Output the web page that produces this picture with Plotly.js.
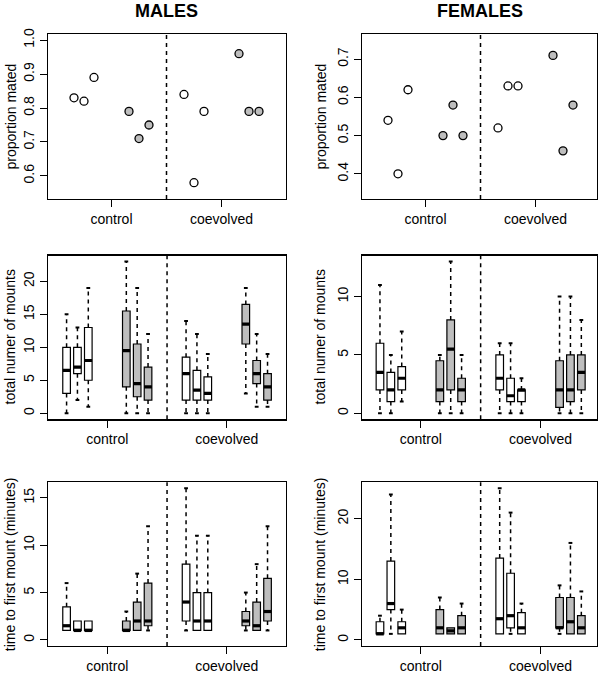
<!DOCTYPE html>
<html><head><meta charset="utf-8">
<script src="https://cdn.plot.ly/plotly-3.0.1.min.js"></script>
<style>html,body{margin:0;padding:0;background:#fff}#chart{width:600px;height:674px}</style>
</head><body><div id="chart"></div>
<script>
// ---------- data ----------
const groups = ["control", "coevolved"];
const sexes = ["MALES", "FEMALES"];
const yTitles = ["proportion mated", "total numer of mounts", "time to first mount (minutes)"];

// proportion mated (12 lines: control white x3, control grey x3, coevolved white x3, coevolved grey x3)
const malesMated   = [0.83, 0.82, 0.89, 0.79, 0.71, 0.75, 0.84, 0.58, 0.79, 0.96, 0.79, 0.79];
const femalesMated = [0.54, 0.40, 0.62, 0.50, 0.58, 0.50, 0.52, 0.63, 0.63, 0.71, 0.46, 0.58];

// total number of mounts - males
const mMountLow = [0, 2, 1, 0, 0, 0, 0, 0, 0, 3, 1, 1];
const mMountQ1  = [3, 6, 5, 4, 2.5, 2, 2, 2, 2, 10.5, 4.5, 2];
const mMountMed = [6.5, 7, 8, 9.5, 4.5, 4, 6, 3.5, 3, 13.5, 6, 4];
const mMountQ3  = [10, 10, 13, 15.5, 10.5, 7, 8.5, 6.5, 5.5, 16.5, 8, 6];
const mMountUp  = [15, 13, 19, 23, 19, 12, 14, 12, 9, 19, 12, 9];

// total number of mounts - females
const fMountLow = [0, 0, 1, 0, 0, 0, 0, 0, 0, 0, 0, 0];
const fMountQ1  = [2, 1, 2, 1, 2, 1, 2, 1, 1, 0.5, 1, 2];
const fMountMed = [3.5, 2, 3, 2, 5.5, 2, 3, 1.5, 2, 2, 2, 3.5];
const fMountQ3  = [6, 3.5, 4, 4.5, 8, 3, 5, 3, 2, 4.5, 5, 5];
const fMountUp  = [11, 5, 7, 5, 13, 5, 6, 6, 3, 10, 10, 8];

// time to first mount - males
const mTimeLow = [1, 1, 1, 1, 1, 1, 1, 1, 1, 1, 1, 1];
const mTimeQ1  = [1, 1, 1, 1, 1, 1.5, 2, 1, 1, 1.5, 1, 2];
const mTimeMed = [1.5, 1, 1, 1, 2, 2, 4, 2, 2, 2, 1.5, 3];
const mTimeQ3  = [3.5, 2, 2, 2, 4, 6, 8, 5, 5, 3, 4, 6.5];
const mTimeUp  = [6, 2, 2, 3, 7, 12, 16, 11, 11, 5, 8, 12];

// time to first mount - females
const fTimeLow = [1, 1, 1, 1, 1, 1, 1, 1, 1, 1, 1, 1];
const fTimeQ1  = [1, 5, 1, 1, 1, 1, 1, 2, 1, 2, 1, 1];
const fTimeMed = [1, 6, 2, 2, 1.5, 2, 3.5, 4, 2, 2, 3, 2];
const fTimeQ3  = [3, 13, 3, 5, 2, 4, 13.5, 11, 4.5, 7, 7, 4];
const fTimeUp  = [4, 24, 5, 7, 2, 6, 25, 21, 6, 9, 16, 8];

// y ticks
const yTicks = [
  [0.6, 0.7, 0.8, 0.9, 1.0], [0.4, 0.5, 0.6, 0.7],
  [0, 5, 10, 15, 20], [0, 5, 10],
  [0, 5, 10, 15], [0, 10, 20]
];

// ---------- layout helpers ----------
const GREY = "#BEBEBE";
const FONT = "Liberation Sans, Arial, Helvetica, sans-serif";
const W = 600, H = 674;
const pos = i => Math.floor(i / 3) * 5.5 + (i % 3);
const isGrey = i => Math.floor(i / 3) % 2 === 1;
const N = malesMated.length;
const xs = Array.from({length: N}, (_, i) => pos(i));
const ctrlC = xs.slice(0, 6).reduce((a, b) => a + b, 0) / 6;
const coevC = xs.slice(6).reduce((a, b) => a + b, 0) / 6;
const sep = (xs[5] + xs[6]) / 2;

const colPx = [[48, 286], [362, 597]];
const rowPx = [[34, 199], [255.5, 419.3], [482.3, 646]];
const xRanges = [[-2.6, 21.2], [-2.6, 20.9], [-1.71, 20.2], [-1.65, 19.94], [-1.71, 20.2], [-1.65, 19.94]];
const yRanges = [[0.532, 1.018], [0.334, 0.766], [-0.92, 23.92], [-0.52, 13.52], [-0.64, 16.64], [-1, 26]];

const boxSets = {
  2: [mMountLow, mMountQ1, mMountMed, mMountQ3, mMountUp],
  3: [fMountLow, fMountQ1, fMountMed, fMountQ3, fMountUp],
  4: [mTimeLow, mTimeQ1, mTimeMed, mTimeQ3, mTimeUp],
  5: [fTimeLow, fTimeQ1, fTimeMed, fTimeQ3, fTimeUp]
};

const traces = [];
const layout = {
  width: W, height: H, margin: {l: 0, r: 0, t: 0, b: 0},
  paper_bgcolor: "#fff", plot_bgcolor: "#fff",
  showlegend: false, boxmode: "overlay",
  font: {family: FONT, size: 14, color: "#000"},
  shapes: [], annotations: []
};

const BW = 0.7;   // box width (x units)
for (let k = 0; k < 6; k++) {
  const col = k % 2, row = Math.floor(k / 2);
  const xa = "x" + (k + 1), ya = "y" + (k + 1);
  const axKeyX = k === 0 ? "xaxis" : "xaxis" + (k + 1);
  const axKeyY = k === 0 ? "yaxis" : "yaxis" + (k + 1);
  layout[axKeyX] = {
    domain: [colPx[col][0] / W, colPx[col][1] / W],
    anchor: ya, range: xRanges[k],
    tickvals: [ctrlC, coevC], ticktext: groups,
    ticks: "outside", ticklen: 7, tickwidth: 1, tickcolor: "#000",
    showline: true, mirror: true, linecolor: "#000", linewidth: 1.3,
    showgrid: false, zeroline: false, tickfont: {size: 14, family: FONT}
  };
  layout[axKeyY] = {
    domain: [1 - rowPx[row][1] / H, 1 - rowPx[row][0] / H],
    anchor: xa, range: yRanges[k],
    tickvals: yTicks[k], tickformat: row === 0 ? ".1f" : "d",
    tickangle: -90,
    ticks: "outside", ticklen: 7, tickwidth: 1, tickcolor: "#000",
    showline: true, mirror: true, linecolor: "#000", linewidth: 1.3,
    showgrid: false, zeroline: false, tickfont: {size: 14, family: FONT}
  };
  // dashed separator
  layout.shapes.push({
    type: "line", xref: xa, yref: ya + " domain", x0: sep, x1: sep, y0: 0, y1: 1,
    line: {color: "#000", width: 1.5, dash: "4px,4px"}
  });
  // y title
  layout.annotations.push({
    text: yTitles[row], xref: "paper", yref: "paper",
    x: (col === 0 ? 10 : 320) / W,
    y: 1 - (rowPx[row][0] + rowPx[row][1]) / 2 / H,
    textangle: -90, showarrow: false, xanchor: "center", yanchor: "middle",
    font: {size: 14, family: FONT}
  });

  if (row === 0) {
    const vals = col === 0 ? malesMated : femalesMated;
    traces.push({
      type: "scatter", mode: "markers", xaxis: xa, yaxis: ya,
      x: xs, y: vals, hoverinfo: "y",
      marker: {size: 8, color: xs.map((_, i) => isGrey(i) ? GREY : "#fff"),
               line: {color: "#000", width: 1.3}}
    });
  } else {
    const [lo, q1, med, q3, up] = boxSets[k];
    // whiskers (dashed)
    const wx = [], wy = [], sx = [], sy = [], mx = [], my = [];
    for (let i = 0; i < N; i++) {
      if (up[i] > q3[i]) {
        wx.push(xs[i], xs[i], null); wy.push(q3[i], up[i], null);
        sx.push(xs[i] - BW / 4, xs[i] + BW / 4, null); sy.push(up[i], up[i], null);
      }
      if (lo[i] < q1[i]) {
        wx.push(xs[i], xs[i], null); wy.push(q1[i], lo[i], null);
        sx.push(xs[i] - BW / 4, xs[i] + BW / 4, null); sy.push(lo[i], lo[i], null);
      }
      mx.push(xs[i] - BW / 2, xs[i] + BW / 2, null); my.push(med[i], med[i], null);
    }
    traces.push({type: "scatter", mode: "lines", xaxis: xa, yaxis: ya, x: wx, y: wy,
      line: {color: "#000", width: 1.5, dash: "4px,4px"}, hoverinfo: "skip"});
    traces.push({type: "scatter", mode: "lines", xaxis: xa, yaxis: ya, x: sx, y: sy,
      line: {color: "#000", width: 2}, hoverinfo: "skip"});
    [false, true].forEach(g => {
      const idx = xs.map((_, i) => i).filter(i => isGrey(i) === g);
      traces.push({
        type: "box", xaxis: xa, yaxis: ya,
        x: idx.map(i => xs[i]),
        q1: idx.map(i => q1[i]), median: idx.map(i => med[i]), q3: idx.map(i => q3[i]),
        lowerfence: idx.map(i => q1[i]), upperfence: idx.map(i => q3[i]),
        width: BW, whiskerwidth: 0, boxpoints: false,
        fillcolor: g ? GREY : "#fff", line: {color: "#000", width: 1.2}
      });
    });
    traces.push({type: "scatter", mode: "lines", xaxis: xa, yaxis: ya, x: mx, y: my,
      line: {color: "#000", width: 3.2}, hoverinfo: "skip"});
  }
}
// column titles
sexes.forEach((s, c) => {
  layout.annotations.push({
    text: "<b>" + s + "</b>", xref: "paper", yref: "paper",
    x: (c === 0 ? 166.7 : 480) / W, y: 1 - 11 / H,
    showarrow: false, xanchor: "center", yanchor: "middle",
    font: {size: 18, family: FONT}
  });
});

Plotly.newPlot("chart", traces, layout, {staticPlot: true, displayModeBar: false});
</script>
</body></html>
